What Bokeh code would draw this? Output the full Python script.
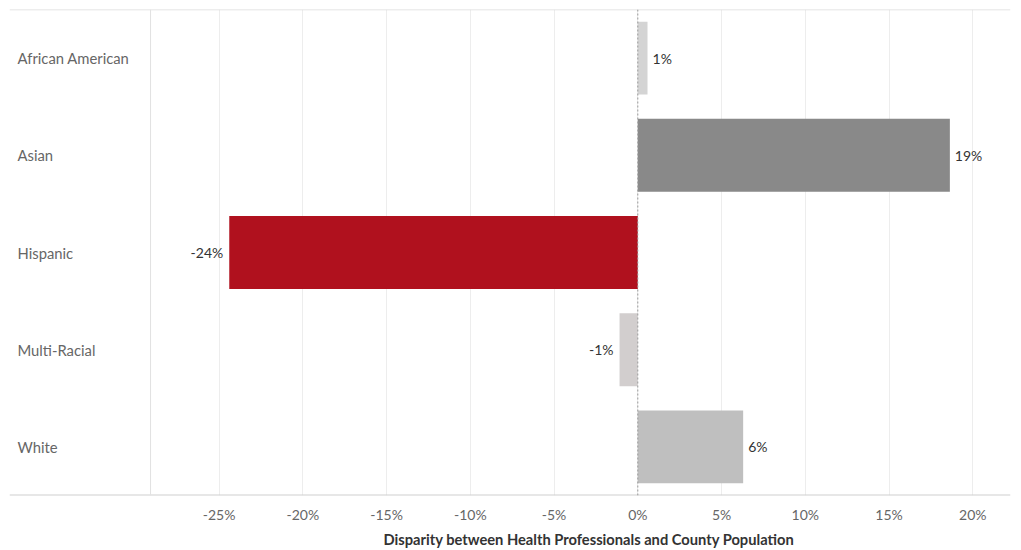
from bokeh.plotting import figure
from bokeh.models import Range1d, FactorRange, Span, FixedTicker, PrintfTickFormatter, ColumnDataSource, Title
from bokeh.core.properties import value
from bokeh.embed import file_html
from bokeh.resources import INLINE

categories = ["African American", "Asian", "Hispanic", "Multi-Racial", "White"]
disparity = [0.58, 18.63, -24.39, -1.09, 6.29]
value_labels = ["1%", "19%", "-24%", "-1%", "6%"]
colors = ["#d4d4d4", "#898989", "#b0111e", "#d2cece", "#bfbfbf"]
tick_values = [-25, -20, -15, -10, -5, 0, 5, 10, 15, 20]
axis_title = "Disparity between Health Professionals and County Population"

x_start, x_end = -37.51, 22.25
pane_x = -29.09
FONT = "Lato"

p = figure(width=1013, height=550, output_backend="svg", toolbar_location=None,
           x_range=Range1d(x_start, x_end),
           y_range=FactorRange(factors=list(reversed(categories))),
           y_axis_location=None,
           min_border_left=9, min_border_right=3, min_border_top=9, min_border_bottom=55)
p.outline_line_color = None
p.background_fill_color = "white"
p.border_fill_color = "white"

# grid
p.ygrid.grid_line_color = None
p.xgrid.ticker = FixedTicker(ticks=tick_values)
p.xgrid.grid_line_color = "#ededed"
p.xgrid.grid_line_width = 1

# bars
src = ColumnDataSource(dict(cat=categories, val=disparity, col=colors, lab=value_labels,
                            zero=[0] * len(categories)))
p.hbar(y="cat", left="zero", right="val", height=0.75, fill_color="col", line_color=None, source=src)

# value labels
pos = ColumnDataSource(dict(cat=[c for c, v in zip(categories, disparity) if v >= 0],
                            val=[v for v in disparity if v >= 0],
                            lab=[l for l, v in zip(value_labels, disparity) if v >= 0]))
neg = ColumnDataSource(dict(cat=[c for c, v in zip(categories, disparity) if v < 0],
                            val=[v for v in disparity if v < 0],
                            lab=[l for l, v in zip(value_labels, disparity) if v < 0]))
p.text(x="val", y="cat", text="lab", source=pos, x_offset=5, text_align="left",
       text_baseline="middle", text_font=value(FONT), text_font_size="14px", text_color="#333333")
p.text(x="val", y="cat", text="lab", source=neg, x_offset=-6, text_align="right",
       text_baseline="middle", text_font=value(FONT), text_font_size="14px", text_color="#333333")

# category labels
p.text(x=[x_start] * len(categories), y=categories, text=categories, x_offset=8,
       text_align="left", text_baseline="middle", text_font=value(FONT),
       text_font_size="14.8px", text_color="#666666")

# lines
p.add_layout(Span(location=5, dimension="width", line_color="#dcdcdc", line_width=1.5))
p.add_layout(Span(location=0, dimension="width", line_color="#cfcfcf", line_width=2))
p.add_layout(Span(location=pane_x, dimension="height", line_color="#e2e2e2", line_width=1))
p.add_layout(Span(location=0, dimension="height", line_color="#9a9a9a", line_width=1, line_dash="2 2"))

# x axis
ax = p.xaxis[0]
ax.ticker = FixedTicker(ticks=tick_values)
ax.formatter = PrintfTickFormatter(format="%d%%")
ax.axis_line_color = None
ax.major_tick_line_color = None
ax.minor_tick_line_color = None
ax.major_tick_out = 0
ax.major_tick_in = 0
ax.minor_tick_out = 0
ax.minor_tick_in = 0
ax.major_label_standoff = 10
ax.major_label_text_font = FONT
ax.major_label_text_font_size = "14px"
ax.major_label_text_color = "#666666"

# axis title, centred over the chart pane
p.add_layout(Title(text=axis_title, align="left", offset=374, standoff=4,
                   text_font=FONT, text_font_size="14.7px", text_font_style="bold",
                   text_color="#333333"), "below")

open("out.html", "w").write(file_html(p, INLINE))
